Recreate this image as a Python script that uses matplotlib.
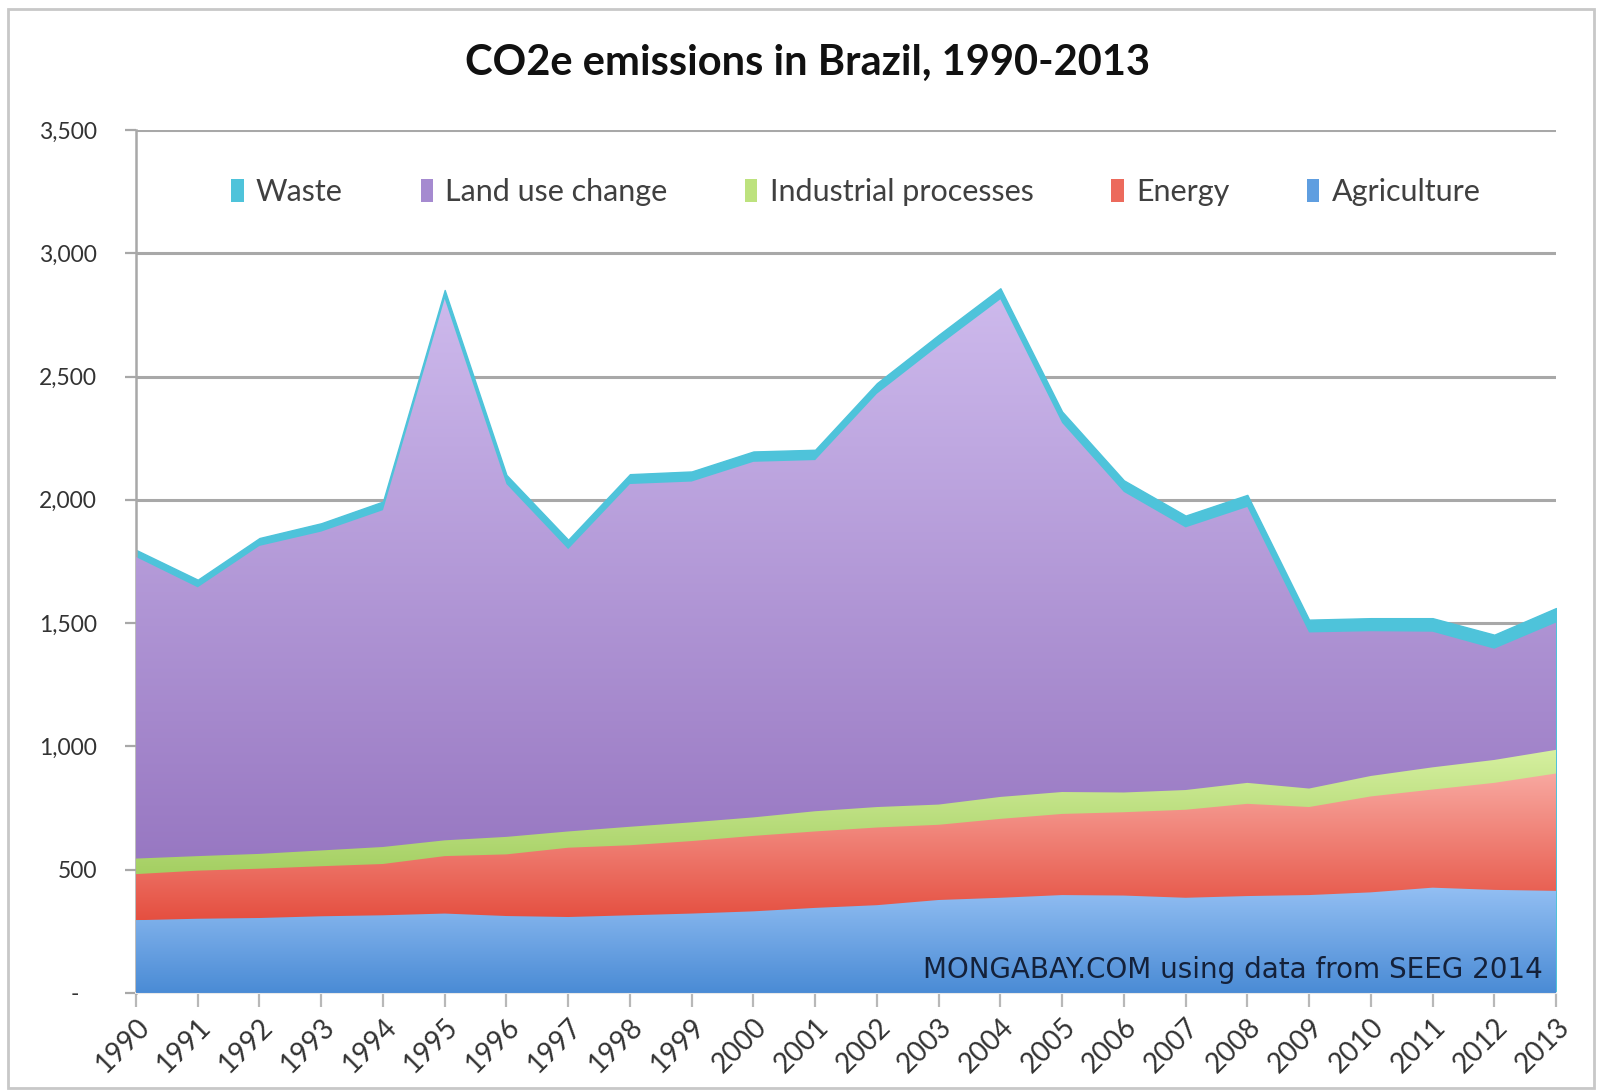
import numpy as np
import matplotlib
matplotlib.use("Agg")
import matplotlib.pyplot as plt
from matplotlib.colors import LinearSegmentedColormap
from matplotlib.patches import Rectangle, Patch
from matplotlib.ticker import FuncFormatter

plt.rcParams['font.family'] = ['Lato', 'DejaVu Sans']

years = np.arange(1990, 2014)
agriculture = np.array([295, 301, 304, 311, 315, 322, 312, 308, 315, 322, 331, 345,
                        356, 377, 386, 397, 395, 386, 393, 397, 408, 427, 418, 414])
energy = np.array([187, 195, 200, 203, 208, 233, 250, 281, 284, 294, 306, 310,
                   315, 305, 320, 329, 338, 357, 374, 357, 389, 398, 434, 476])
industrial = np.array([63, 59, 60, 64, 69, 64, 71, 66, 75, 76, 75, 82,
                       83, 82, 89, 89, 80, 80, 85, 75, 83, 90, 93, 96])
land_use = np.array([1223, 1090, 1249, 1293, 1366, 2196, 1431, 1145, 1390, 1382, 1442, 1424,
                     1676, 1861, 2018, 1497, 1219, 1065, 1119, 633, 587, 550, 451, 516])
waste = np.array([29, 31, 32, 34, 35, 36, 37, 38, 40, 41, 42, 42,
                  43, 44, 45, 46, 47, 48, 49, 52, 53, 55, 57, 59])

series_names = ["Waste", "Land use change", "Industrial processes", "Energy", "Agriculture"]

fig = plt.figure(figsize=(16.02, 10.92), dpi=100)
ax = fig.add_axes([0.0849, 0.0907, 0.8864, 0.7903])

x = years.astype(float)
top_agri = agriculture
top_energy = top_agri + energy
top_ind = top_energy + industrial
top_land = top_ind + land_use
top_waste = top_land + waste


def gradient_band(lower, upper, c_bottom, c_top, z):
    # clip region runs from the baseline to the band's top, so lower bands
    # painted afterwards cover any overlap without seams
    poly = ax.fill_between(x, 0, upper, facecolor='none', edgecolor='none', zorder=z)
    cmap = LinearSegmentedColormap.from_list('band', [c_bottom, c_top])
    grad = np.linspace(0, 1, 256).reshape(-1, 1)
    im = ax.imshow(grad, extent=[x[0], x[-1], lower.min(), upper.max()],
                   origin='lower', aspect='auto', cmap=cmap, zorder=z,
                   interpolation='bilinear')
    im.set_clip_path(poly.get_paths()[0], transform=ax.transData)


# waste sits on top as a thin cyan rim
ax.fill_between(x, 0, top_waste, facecolor='#4ec3da', edgecolor='#4ec3da', lw=1.0, zorder=2)
gradient_band(top_ind, top_land, '#9878c2', '#cdb9ec', 3)
gradient_band(top_energy, top_ind, '#a4cf62', '#d6f0a0', 4)
gradient_band(top_agri, top_energy, '#e54f40', '#f8a8a0', 5)
gradient_band(np.zeros_like(x), top_agri, '#4a8bd5', '#93bff3', 6)

ax.set_xlim(1990, 2013)
ax.set_ylim(0, 3500)

ax.set_yticks(np.arange(0, 3501, 500))
ax.yaxis.set_major_formatter(FuncFormatter(lambda v, p: '-   ' if v == 0 else f'{int(v):,}'))
ax.set_xticks(years)
ax.set_xticklabels([str(y) for y in years], rotation=45, ha='right', rotation_mode='anchor')

ax.grid(axis='y', color='#a8a8a8', lw=2.2, zorder=0)
ax.set_axisbelow(True)
for s in ('top', 'right'):
    ax.spines[s].set_visible(False)
ax.spines['left'].set_color('#a8a8a8')
ax.spines['left'].set_linewidth(1.8)
ax.spines['bottom'].set_color('#e8e8e8')
ax.spines['bottom'].set_linewidth(1.5)
ax.tick_params(axis='y', colors='#a8a8a8', labelcolor='#333333', labelsize=16.5,
               length=8, width=1.6, pad=20)
ax.tick_params(axis='x', colors='#b8b8b8', labelcolor='#333333', labelsize=20,
               length=10, width=1.6, pad=5)

colors_legend = ['#4ec3da', '#a58ad0', '#bde27e', '#ec6a5c', '#5f9ee0']
handles = [Patch(facecolor=c, edgecolor='none') for c in colors_legend]
leg = ax.legend(handles, series_names, ncol=5, loc='center',
                bbox_to_anchor=(0.507, 0.928), frameon=False, fontsize=22,
                handlelength=0.4, handleheight=0.8, handletextpad=0.4,
                columnspacing=2.55, labelcolor='#404040')

fig.text(0.504, 0.942, 'CO2e emissions in Brazil, 1990-2013', ha='center', va='center',
         fontsize=30, fontweight='bold', color='#111111')

ax.text(0.991, 0.027, 'MONGABAY.COM using data from SEEG 2014', transform=ax.transAxes,
        ha='right', va='center', fontsize=20, color='#14213a', zorder=10,
        family='DejaVu Sans')

fig.patches.append(Rectangle((0.005, 0.004), 0.99, 0.988, transform=fig.transFigure,
                             fill=False, edgecolor='#c8c8c8', lw=2.0))

fig.savefig('out.png', dpi=100)
